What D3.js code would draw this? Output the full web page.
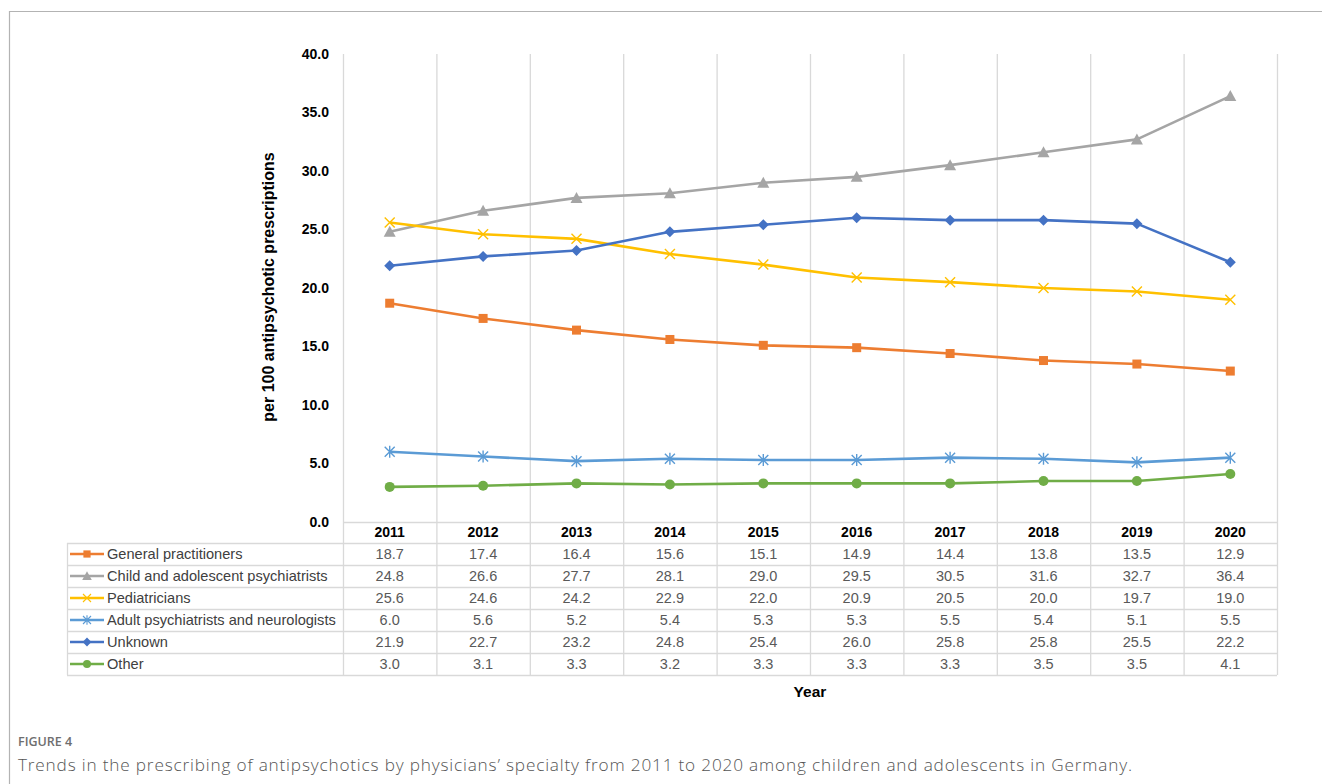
<!DOCTYPE html>
<html>
<head>
<meta charset="utf-8">
<script src="https://cdn.jsdelivr.net/npm/d3@7"></script>
<style>
  html, body { margin: 0; padding: 0; background: #fff; }
  svg { display: block; }
</style>
</head>
<body>
<svg id="chart" width="1322" height="784"></svg>
<script>
// Years on the x axis and in the data table header
const years = [2011, 2012, 2013, 2014, 2015, 2016, 2017, 2018, 2019, 2020];

// Prescriptions per 100 antipsychotic prescriptions, by specialty
const generalPractitioners = [18.7, 17.4, 16.4, 15.6, 15.1, 14.9, 14.4, 13.8, 13.5, 12.9];
const childAdolescentPsych = [24.8, 26.6, 27.7, 28.1, 29.0, 29.5, 30.5, 31.6, 32.7, 36.4];
const pediatricians       = [25.6, 24.6, 24.2, 22.9, 22.0, 20.9, 20.5, 20.0, 19.7, 19.0];
const adultPsychNeuro     = [6.0, 5.6, 5.2, 5.4, 5.3, 5.3, 5.5, 5.4, 5.1, 5.5];
const unknown             = [21.9, 22.7, 23.2, 24.8, 25.4, 26.0, 25.8, 25.8, 25.5, 22.2];
const other               = [3.0, 3.1, 3.3, 3.2, 3.3, 3.3, 3.3, 3.5, 3.5, 4.1];

const seriesNames  = ["General practitioners", "Child and adolescent psychiatrists", "Pediatricians",
                      "Adult psychiatrists and neurologists", "Unknown", "Other"];
const seriesValues = [generalPractitioners, childAdolescentPsych, pediatricians,
                      adultPsychNeuro, unknown, other];
const seriesColors = ["#ED7D31", "#A5A5A5", "#FFC000", "#5B9BD5", "#4472C4", "#70AD47"];
const seriesMarkers = ["square", "triangle", "cross", "asterisk", "diamond", "circle"];

const yTicks = [0, 5, 10, 15, 20, 25, 30, 35, 40];

const series = seriesNames.map((name, i) => ({
  name, values: seriesValues[i], color: seriesColors[i], marker: seriesMarkers[i]
}));

const svg = d3.select("#chart");
const font = "Arial, 'Liberation Sans', sans-serif";

// Panel frame
svg.append("path")
  .attr("d", "M9.5,784 L9.5,11.5 L1322,11.5")
  .attr("fill", "none").attr("stroke", "#b3b3b3").attr("stroke-width", 1.2);

// Plot geometry
const plotLeft = 343, plotRight = 1277, plotTop = 54, plotBottom = 522;
const tableLeft = 67, headerBottom = 543, rowH = 22;
const tableBottom = headerBottom + rowH * series.length;

const x = d3.scaleBand().domain(years).range([plotLeft, plotRight]);
const y = d3.scaleLinear().domain([0, 40]).range([plotBottom, plotTop]);
const cx = d => x(d) + x.bandwidth() / 2;

const gridColor = "#d9d9d9";

// Vertical gridlines (column boundaries), through plot and table
const bounds = years.map(d => x(d)).concat([plotRight]);
svg.append("g").selectAll("line").data(bounds).join("line")
  .attr("x1", d => d + 0.5).attr("x2", d => d + 0.5)
  .attr("y1", plotTop).attr("y2", tableBottom)
  .attr("stroke", gridColor).attr("stroke-width", 1.3);

// Table horizontal lines
const rowLines = d3.range(series.length + 1).map(i => headerBottom + i * rowH);
const tbl = svg.append("g");
tbl.append("line").attr("x1", plotLeft).attr("x2", plotRight)
  .attr("y1", plotBottom + 0.5).attr("y2", plotBottom + 0.5)
  .attr("stroke", gridColor).attr("stroke-width", 1.3);
tbl.selectAll("line.row").data(rowLines).join("line").attr("class", "row")
  .attr("x1", tableLeft).attr("x2", plotRight)
  .attr("y1", d => d + 0.5).attr("y2", d => d + 0.5)
  .attr("stroke", gridColor).attr("stroke-width", 1.3);
tbl.append("line").attr("x1", tableLeft + 0.5).attr("x2", tableLeft + 0.5)
  .attr("y1", headerBottom).attr("y2", tableBottom)
  .attr("stroke", gridColor).attr("stroke-width", 1.3);

// Y axis tick labels
svg.append("g").selectAll("text").data(yTicks).join("text")
  .attr("x", 329).attr("y", d => y(d)).attr("dy", "0.35em")
  .attr("text-anchor", "end")
  .attr("font-family", font).attr("font-weight", "bold").attr("font-size", 14)
  .attr("fill", "#000").text(d3.format(".1f"));

// Y axis title
svg.append("text")
  .attr("transform", `translate(274,${(plotTop + plotBottom) / 2 - 1}) rotate(-90)`)
  .attr("text-anchor", "middle")
  .attr("font-family", font).attr("font-weight", "bold").attr("font-size", 16)
  .attr("fill", "#000").text("per 100 antipsychotic prescriptions");

// Year header row
svg.append("g").selectAll("text").data(years).join("text")
  .attr("x", d => cx(d)).attr("y", 537)
  .attr("text-anchor", "middle")
  .attr("font-family", font).attr("font-weight", "bold").attr("font-size", 14)
  .attr("fill", "#000").text(d => d);

// X axis title
svg.append("text")
  .attr("x", (plotLeft + plotRight) / 2).attr("y", 697)
  .attr("text-anchor", "middle")
  .attr("font-family", font).attr("font-weight", "bold").attr("font-size", 15.5)
  .attr("fill", "#000").text("Year");

// Marker shapes
function drawMarker(g, type, color) {
  switch (type) {
    case "square":
      g.append("rect").attr("x", -4.5).attr("y", -4.5).attr("width", 9).attr("height", 9).attr("fill", color);
      break;
    case "triangle":
      g.append("path").attr("d", "M0,-6 L6,5 L-6,5 Z").attr("fill", color);
      break;
    case "diamond":
      g.append("path").attr("d", "M0,-5.5 L5.5,0 L0,5.5 L-5.5,0 Z").attr("fill", color);
      break;
    case "circle":
      g.append("circle").attr("r", 5).attr("fill", color);
      break;
    case "cross":
      g.append("path").attr("d", "M-5,-5 L5,5 M-5,5 L5,-5")
        .attr("stroke", color).attr("stroke-width", 1.4).attr("fill", "none");
      break;
    case "asterisk":
      g.append("path").attr("d", "M-5,-5 L5,5 M-5,5 L5,-5 M0,-6 L0,6")
        .attr("stroke", color).attr("stroke-width", 1.4).attr("fill", "none");
      break;
  }
}

// Series lines
const line = d3.line()
  .x((d, i) => cx(years[i]))
  .y(d => y(d));

const plot = svg.append("g");
const sg = plot.selectAll("g.series").data(series).join("g").attr("class", "series");
sg.append("path")
  .attr("d", d => line(d.values))
  .attr("fill", "none")
  .attr("stroke", d => d.color)
  .attr("stroke-width", 2.6)
  .attr("stroke-linejoin", "round");
sg.each(function (s) {
  d3.select(this).selectAll("g.m").data(s.values).join("g").attr("class", "m")
    .attr("transform", (v, i) => `translate(${cx(years[i])},${y(v)})`)
    .each(function () { drawMarker(d3.select(this), s.marker, s.color); });
});

// Data table rows: legend key + values
const rows = svg.append("g").selectAll("g.row").data(series).join("g").attr("class", "row")
  .attr("transform", (d, i) => `translate(0,${headerBottom + i * rowH + rowH / 2})`);
rows.append("line").attr("x1", 70).attr("x2", 104).attr("y1", 0).attr("y2", 0)
  .attr("stroke", d => d.color).attr("stroke-width", 2.6);
rows.each(function (s) {
  const g = d3.select(this).append("g");
  drawMarker(g, s.marker, s.color);
  g.attr("transform", "translate(87,0) scale(0.8)");
});
rows.append("text").attr("x", 107).attr("y", 0).attr("dy", "0.35em")
  .attr("font-family", font).attr("font-size", 14.6).attr("fill", "#404040")
  .text(d => d.name);
rows.each(function (s) {
  d3.select(this).selectAll("text.v").data(s.values).join("text").attr("class", "v")
    .attr("x", (v, i) => cx(years[i])).attr("y", 0).attr("dy", "0.35em")
    .attr("text-anchor", "middle")
    .attr("font-family", font).attr("font-size", 14.5).attr("fill", "#595959")
    .text(d3.format(".1f"));
});

// Caption
svg.append("text").attr("x", 18).attr("y", 746)
  .attr("font-family", "'Open Sans', sans-serif").attr("font-weight", 600).attr("font-size", 12.5)
  .attr("fill", "#6e6e6e").text("FIGURE 4");
svg.append("text").attr("x", 18).attr("y", 771)
  .attr("font-family", "'Open Sans', sans-serif").attr("font-weight", 300).attr("font-size", 17.2)
  .attr("fill", "#555")
  .attr("textLength", 1114).attr("lengthAdjust", "spacing")
  .text("Trends in the prescribing of antipsychotics by physicians\u2019 specialty from 2011 to 2020 among children and adolescents in Germany.");
</script>
</body>
</html>
